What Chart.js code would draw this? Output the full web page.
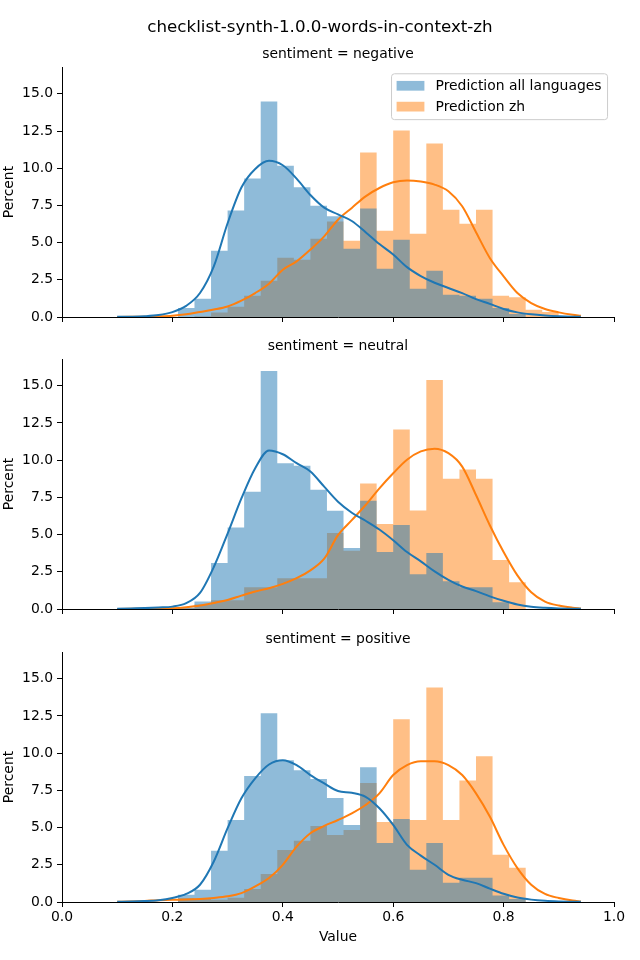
<!DOCTYPE html>
<html>
<head>
<meta charset="utf-8">
<title>checklist-synth-1.0.0-words-in-context-zh</title>
<script src="https://cdn.jsdelivr.net/npm/chart.js@4.4.1/dist/chart.umd.min.js"></script>
<style>
  body { margin: 0; background: #fff; }
  #wrap { position: relative; width: 640px; height: 960px; }
  canvas { position: absolute; left: 0; }
</style>
</head>
<body>
<div id="wrap">
  <canvas id="panelNeg" width="640" height="330" style="top:0px"></canvas>
  <canvas id="panelNeu" width="640" height="293" style="top:330px"></canvas>
  <canvas id="panelPos" width="640" height="337" style="top:623px"></canvas>
</div>
<script>
const figTitle = 'checklist-synth-1.0.0-words-in-context-zh';
const seriesNames = ['Prediction all languages', 'Prediction zh'];
const panelTitles = ['sentiment = negative', 'sentiment = neutral', 'sentiment = positive'];

// histogram bin edges (width 0.03)
const binEdges = [0.21, 0.24, 0.27, 0.30, 0.33, 0.36, 0.39, 0.42, 0.45, 0.48, 0.51, 0.54,
                  0.57, 0.60, 0.63, 0.66, 0.69, 0.72, 0.75, 0.78, 0.81, 0.84, 0.87, 0.90];

// percent per bin
const negAll = [0.61, 1.23, 4.46, 7.15, 9.30, 14.48, 10.17, 8.72, 7.48, 6.77, 4.59, 7.30, 3.25, 5.20, 1.90, 3.11, 1.50, 1.43, 1.23, 0.61, 0.20, 0, 0];
const negZh  = [0, 0.05, 0.31, 0.69, 1.43, 2.44, 3.99, 3.85, 5.26, 6.41, 5.13, 11.05, 5.80, 12.53, 5.60, 11.66, 7.21, 6.27, 7.21, 1.43, 1.32, 0.49, 0.33];
const neuAll = [0.10, 0.50, 3.09, 5.47, 7.88, 16.00, 9.80, 9.62, 8.02, 6.60, 4.10, 7.28, 3.83, 5.65, 2.34, 3.76, 1.87, 1.47, 1.47, 0.45, 0, 0, 0];
const neuZh  = [0.05, 0.30, 0.59, 0.59, 1.46, 1.46, 2.07, 2.07, 2.07, 5.11, 3.92, 8.43, 5.72, 12.07, 6.62, 15.39, 8.76, 9.37, 8.76, 3.29, 1.80, 0, 0];
const posAll = [0.49, 0.83, 3.44, 5.51, 8.46, 12.68, 9.53, 8.86, 8.26, 6.99, 5.18, 9.06, 3.97, 5.58, 2.16, 3.97, 1.29, 1.63, 1.63, 0.44, 0.20, 0, 0];
const posZh  = [0.25, 0.20, 0.15, 0.28, 0.88, 1.88, 3.49, 4.11, 5.11, 4.51, 4.84, 7.99, 5.38, 12.28, 5.51, 14.42, 5.51, 8.17, 9.80, 3.17, 2.30, 0, 0];

// kde curves
const kdeX = [0.1, 0.125, 0.15, 0.175, 0.2, 0.225, 0.25, 0.275, 0.3, 0.325, 0.35, 0.375, 0.4, 0.425,
              0.45, 0.475, 0.5, 0.525, 0.55, 0.575, 0.6, 0.625, 0.65, 0.675, 0.7, 0.725, 0.75,
              0.775, 0.8, 0.825, 0.85, 0.875, 0.9, 0.925, 0.94];
const negAllKde = [0.01, 0.02, 0.05, 0.13, 0.33, 0.75, 1.61, 3.4, 6.3, 8.7, 9.95, 10.5, 10.2, 9.3,
                   8.2, 7.35, 6.9, 6.45, 5.7, 4.9, 4.2, 3.35, 2.75, 2.3, 1.95, 1.6, 1.2,
                   0.88, 0.54, 0.31, 0.18, 0.1, 0.05, 0.02, 0.01];
const negZhKde  = [0, 0.01, 0.02, 0.04, 0.08, 0.18, 0.34, 0.5, 0.71, 1.1, 1.61, 2.24, 3.18, 3.74,
                   4.53, 5.42, 6.54, 7.33, 8.11, 8.67, 9.05, 9.17, 9.1, 8.9, 8.45, 7.44, 5.7,
                   3.97, 2.73, 1.61, 0.94, 0.54, 0.31, 0.15, 0.08];
const neuAllKde = [0.02, 0.04, 0.06, 0.1, 0.16, 0.39, 1.08, 2.82, 5.07, 7.43, 9.46, 10.65, 10.4, 9.8,
                   9.24, 8.22, 7.21, 6.47, 5.93, 5.34, 4.62, 3.83, 3.2, 2.53, 1.96, 1.51, 1.2,
                   0.85, 0.55, 0.3, 0.15, 0.08, 0.04, 0.02, 0.01];
const neuZhKde  = [0, 0.01, 0.02, 0.03, 0.05, 0.12, 0.23, 0.41, 0.61, 0.9, 1.18, 1.4, 1.69, 2.07,
                   2.6, 3.38, 4.96, 5.97, 6.99, 8.11, 9.12, 10.03, 10.59, 10.77, 10.47, 9.57, 7.66,
                   5.63, 3.83, 2.26, 1.13, 0.5, 0.23, 0.09, 0.04];
const posAllKde = [0.02, 0.03, 0.06, 0.12, 0.27, 0.54, 1.16, 2.72, 4.96, 6.97, 8.31, 9.24, 9.53, 9.2,
                   8.53, 7.97, 7.46, 7.34, 7.07, 6.3, 5.18, 3.84, 3.12, 2.5, 1.83, 1.49, 1.27,
                   0.9, 0.55, 0.3, 0.16, 0.08, 0.04, 0.02, 0.01];
const posZhKde  = [0.01, 0.03, 0.07, 0.12, 0.15, 0.16, 0.2, 0.27, 0.38, 0.6, 1.05, 1.61, 2.5, 3.72,
                   4.62, 5.11, 5.51, 5.96, 6.52, 7.3, 8.53, 9.2, 9.46, 9.46, 9.2, 8.53, 7.3,
                   5.74, 3.84, 2.28, 1.16, 0.54, 0.27, 0.1, 0.04];

const BLUE = '#1f77b4';
const ORANGE = '#ff7f0e';
const FILLS = ['rgba(31,119,180,0.5)', 'rgba(255,127,14,0.5)'];
const FONT = { family: '"DejaVu Sans", sans-serif', size: 13.9 };

// matplotlib-style legend box in the upper right of the axes
const legendBox = {
    id: 'legendBox',
    afterDraw(chart) {
        const { ctx, chartArea } = chart;
        const fs = FONT.size;
        ctx.save();
        ctx.font = `${fs}px ${FONT.family}`;
        const textW = Math.max(...seriesNames.map(n => ctx.measureText(n).width));
        const pad = 0.4 * fs, handle = 2 * fs, gap = 0.8 * fs, space = 0.5 * fs;
        const w = pad * 2 + handle + gap + textW;
        const h = pad * 2 + fs * 2 + space;
        const x = chartArea.right - 0.5 * fs - w;
        const y = chartArea.top + 0.45 * fs;
        ctx.beginPath();
        ctx.roundRect(x + 0.5, y + 0.5, w, h, 3);
        ctx.fillStyle = 'rgba(255,255,255,0.8)';
        ctx.fill();
        ctx.strokeStyle = '#cccccc';
        ctx.lineWidth = 1;
        ctx.stroke();
        seriesNames.forEach((name, i) => {
            const cy = y + pad + fs / 2 + i * (fs + space);
            ctx.fillStyle = FILLS[i];
            ctx.fillRect(x + pad, cy - 0.35 * fs, handle, 0.7 * fs);
            ctx.fillStyle = '#000';
            ctx.textBaseline = 'middle';
            ctx.fillText(name, x + pad + handle + gap, cy + 1);
        });
        ctx.restore();
    }
};

function histPoints(counts) {
    return binEdges.map((x, i) => ({ x, y: i < counts.length ? counts[i] : 0 }));
}

function kdePoints(values) {
    return kdeX.map((x, i) => ({ x, y: values[i] }));
}

function buildPanel(canvasId, p) {
    const ctx = document.getElementById(canvasId).getContext('2d');
    const plugins = {
        legend: { display: false },
        tooltip: { enabled: false },
        title: {
            display: true,
            text: p.mainTitle || p.title,
            color: '#000',
            font: p.mainTitle ? { family: FONT.family, size: 16.7, weight: 'normal' } : { ...FONT, weight: 'normal' },
            fullSize: !!p.mainTitle,
            padding: p.titlePad
        },
        subtitle: {
            display: !!p.mainTitle,
            text: p.title,
            color: '#000',
            font: { ...FONT, weight: 'normal' },
            fullSize: false,
            padding: p.subPad
        }
    };

    new Chart(ctx, {
        type: 'line',
        data: {
            datasets: [
                {
                    label: seriesNames[0] + ' kde',
                    data: kdePoints(p.allKde),
                    borderColor: BLUE,
                    borderWidth: 2,
                    pointRadius: 0,
                    fill: false,
                    cubicInterpolationMode: 'monotone',
                    order: 1
                },
                {
                    label: seriesNames[1] + ' kde',
                    data: kdePoints(p.zhKde),
                    borderColor: ORANGE,
                    borderWidth: 2,
                    pointRadius: 0,
                    fill: false,
                    cubicInterpolationMode: 'monotone',
                    order: 2
                },
                {
                    label: seriesNames[0],
                    data: histPoints(p.all),
                    stepped: 'before',
                    fill: 'origin',
                    backgroundColor: FILLS[0],
                    borderColor: 'transparent',
                    borderWidth: 0,
                    pointRadius: 0,
                    order: 3
                },
                {
                    label: seriesNames[1],
                    data: histPoints(p.zh),
                    stepped: 'before',
                    fill: 'origin',
                    backgroundColor: FILLS[1],
                    borderColor: 'transparent',
                    borderWidth: 0,
                    pointRadius: 0,
                    order: 4
                }
            ]
        },
        options: {
            responsive: false,
            animation: false,
            devicePixelRatio: 1,
            events: [],
            layout: { padding: 0 },
            plugins,
            scales: {
                x: {
                    type: 'linear',
                    min: 0,
                    max: 1,
                    ticks: {
                        stepSize: 0.2,
                        display: p.showX,
                        color: '#000',
                        font: FONT,
                        padding: 2,
                        maxRotation: 0,
                        autoSkip: false,
                        callback: v => v.toFixed(1)
                    },
                    grid: { drawOnChartArea: false, tickLength: 5, color: '#000', tickColor: '#000' },
                    border: { display: true, color: '#000', width: 1 },
                    title: {
                        display: p.showX,
                        text: 'Value',
                        color: '#000',
                        font: FONT,
                        padding: { top: 0, bottom: 14.7 }
                    },
                    afterFit: s => { s.height = p.xHeight; }
                },
                y: {
                    min: 0,
                    max: 16.8,
                    ticks: {
                        stepSize: 2.5,
                        includeBounds: false,
                        color: '#000',
                        font: FONT,
                        padding: 4,
                        callback: v => v.toFixed(1)
                    },
                    grid: { drawOnChartArea: false, tickLength: 5, color: '#000', tickColor: '#000' },
                    border: { display: true, color: '#000', width: 1 },
                    title: {
                        display: true,
                        text: 'Percent',
                        color: '#000',
                        font: FONT,
                        padding: { top: 1, bottom: 0 }
                    },
                    afterFit: s => { s.width = 62; }
                },
                // empty right margin so the figure title centres on the full width
                margin: {
                    position: 'right',
                    display: true,
                    ticks: { display: false },
                    grid: { display: false },
                    border: { display: false },
                    afterFit: s => { s.width = 26; }
                }
            }
        },
        plugins: p.legend ? [legendBox] : []
    });
}

buildPanel('panelNeg', {
    mainTitle: figTitle,
    title: panelTitles[0],
    titlePad: { top: 18, bottom: 0 },
    subPad: { top: 7.64, bottom: 4.66 },
    all: negAll, zh: negZh, allKde: negAllKde, zhKde: negZhKde,
    showX: false, xHeight: 13, legend: true
});

buildPanel('panelNeu', {
    title: panelTitles[1],
    titlePad: { top: 7.66, bottom: 4.66 },
    all: neuAll, zh: neuZh, allKde: neuAllKde, zhKde: neuZhKde,
    showX: false, xHeight: 14, legend: false
});

buildPanel('panelPos', {
    title: panelTitles[2],
    titlePad: { top: 7.66, bottom: 4.66 },
    all: posAll, zh: posZh, allKde: posAllKde, zhKde: posZhKde,
    showX: true, xHeight: 58, legend: false
});
</script>
</body>
</html>
